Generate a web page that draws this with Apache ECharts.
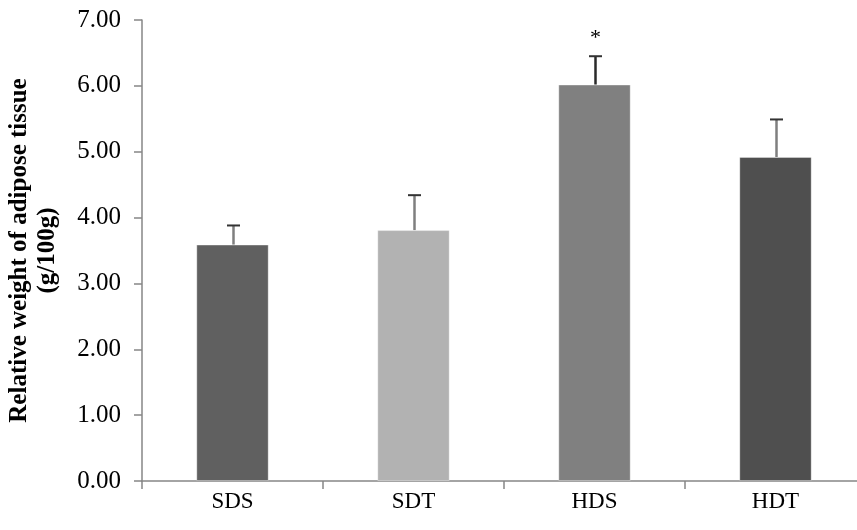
<!DOCTYPE html>
<html><head><meta charset="utf-8">
<script src="https://cdn.jsdelivr.net/npm/echarts@6/dist/echarts.min.js"></script>
<style>html,body{margin:0;padding:0;background:#fff}#c{width:857px;height:530px}</style>
</head><body><div id="c"></div>
<script>
const categories = ['SDS', 'SDT', 'HDS', 'HDT'];
const means = [3.59, 3.81, 6.02, 4.92];
const errors = [0.29, 0.53, 0.43, 0.57];
const marks = ['', '', '*', ''];
const barColors = ['#606060', '#b2b2b2', '#808080', '#4f4f4f'];
const stemColors = ['#7f7f7f', '#7f7f7f', '#2a2a2a', '#7f7f7f'];
const yTicks = [0, 1, 2, 3, 4, 5, 6, 7];

const font = '"Liberation Serif", "Times New Roman", serif';
const chart = echarts.init(document.getElementById('c'));
chart.setOption({
  animation: false,
  grid: { left: 142, top: 20, width: 724, height: 461, containLabel: false, outerBoundsMode: 'none' },
  xAxis: {
    type: 'category', data: categories,
    axisLine: { lineStyle: { color: '#868686', width: 1.5 } },
    axisTick: { show: true, length: 8, alignWithLabel: false, lineStyle: { color: '#868686', width: 1.5 } },
    axisLabel: { fontFamily: font, fontSize: 23, color: '#000', margin: 9 }
  },
  yAxis: {
    type: 'value', min: 0, max: 7, interval: 1,
    name: 'Relative weight of adipose tissue\n(g/100g)',
    nameLocation: 'middle', nameGap: 80, nameRotate: 90,
    nameTextStyle: { fontFamily: font, fontSize: 25, fontWeight: 'bold', color: '#000', lineHeight: 28 },
    axisLine: { show: true, lineStyle: { color: '#868686', width: 1.5 } },
    axisTick: { show: true, length: 8, inside: false, lineStyle: { color: '#868686', width: 1.5 } },
    splitLine: { show: false },
    axisLabel: { fontFamily: font, fontSize: 25, color: '#000', margin: 21,
      formatter: v => yTicks.includes(v) ? v.toFixed(2) : '' }
  },
  series: [
    {
      type: 'bar', barWidth: '40%',
      data: means.map((v, i) => ({ value: v, itemStyle: { color: barColors[i], borderColor: 'rgba(255,255,255,0.35)', borderWidth: 1 } })),
      z: 2
    },
    {
      type: 'custom', z: 3,
      data: means.map((v, i) => [i, v, v + errors[i]]),
      renderItem: (params, api) => {
        const i = api.value(0);
        const base = api.coord([i, api.value(1)]);
        const top = api.coord([i, api.value(2)]);
        const x = Math.round(base[0]) + 0.5;
        const children = [
          { type: 'line', shape: { x1: x, y1: base[1], x2: x, y2: top[1] }, style: { stroke: stemColors[i], lineWidth: 2.5 } },
          { type: 'line', shape: { x1: x - 6.5, y1: top[1], x2: x + 6.5, y2: top[1] }, style: { stroke: '#333', lineWidth: 2 } }
        ];
        if (marks[i]) {
          children.push({ type: 'text', style: { text: marks[i], x: x, y: top[1] - 18, textAlign: 'center', textVerticalAlign: 'middle', fontFamily: font, fontSize: 22, fill: '#000' } });
        }
        return { type: 'group', children };
      }
    }
  ]
});
</script></body></html>
